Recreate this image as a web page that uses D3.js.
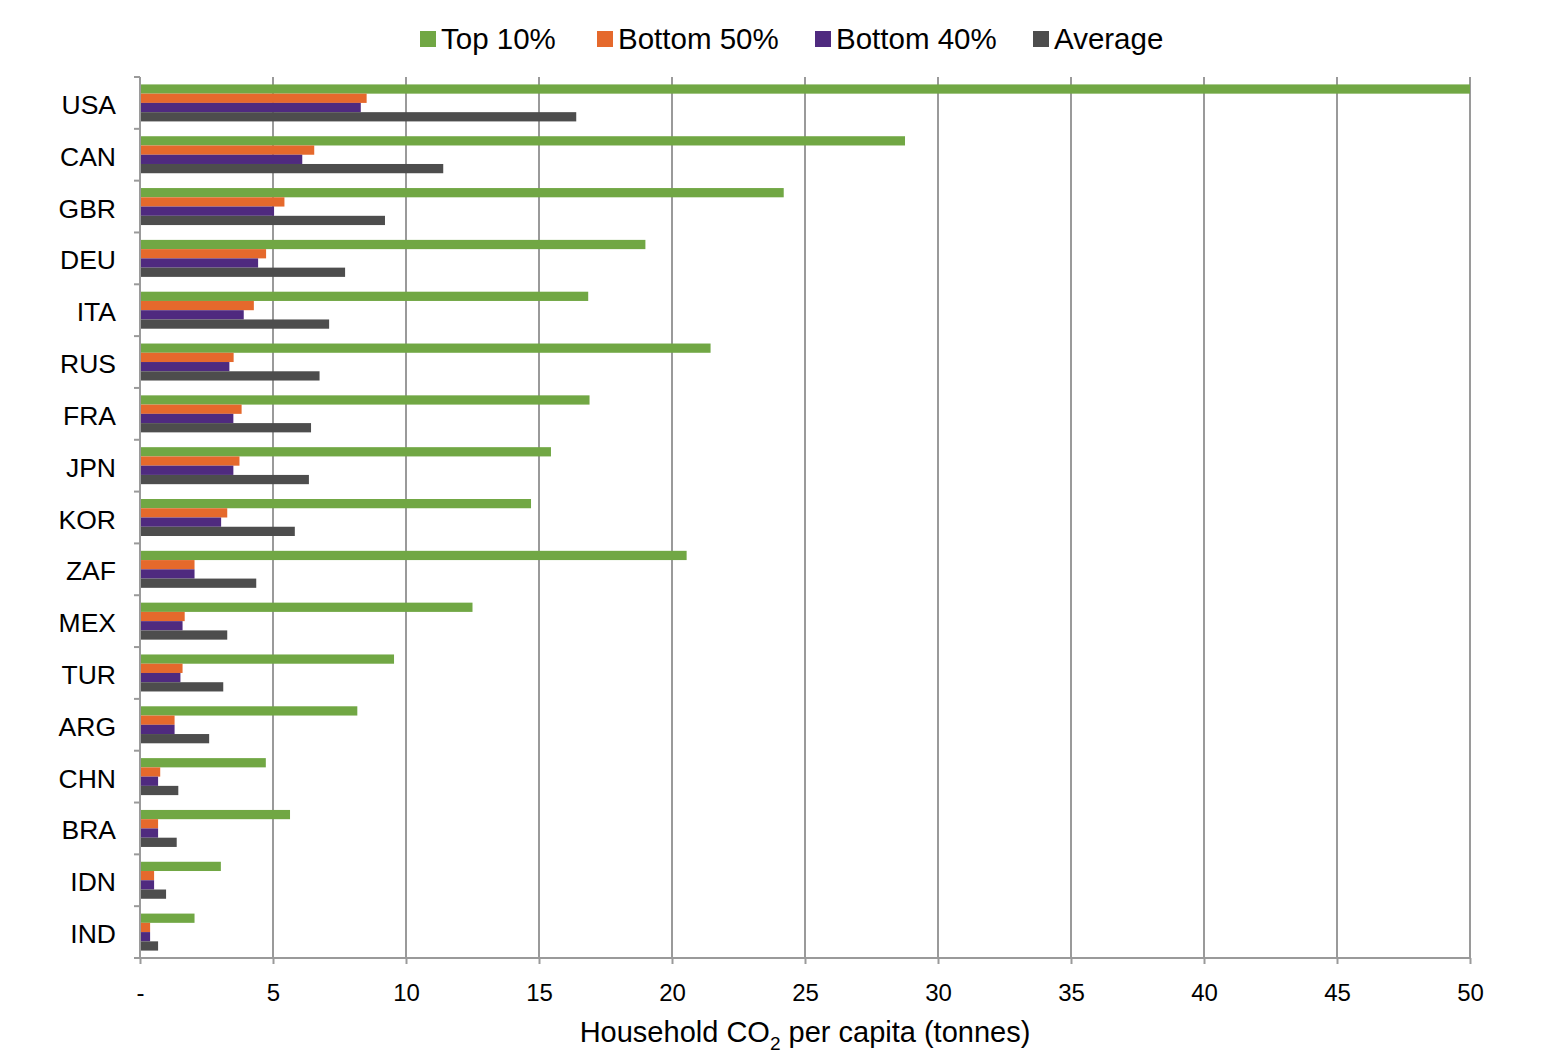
<!DOCTYPE html>
<html>
<head>
<meta charset="utf-8">
<script src="https://cdn.jsdelivr.net/npm/d3@7"></script>
<style>
  html, body { margin: 0; padding: 0; background: #fff; }
  svg { display: block; }
  text { font-family: "Liberation Sans", Arial, Helvetica, sans-serif; fill: #000; }
</style>
</head>
<body>
<svg id="chart" width="1546" height="1064"></svg>
<script>
const countries = ["USA","CAN","GBR","DEU","ITA","RUS","FRA","JPN","KOR","ZAF","MEX","TUR","ARG","CHN","BRA","IDN","IND"];
const seriesNames = ["Top 10%","Bottom 50%","Bottom 40%","Average"];
const top10    = [50, 28.76, 24.2, 19.0, 16.85, 21.45, 16.9, 15.45, 14.7, 20.55, 12.5, 9.55, 8.17, 4.73, 5.64, 3.04, 2.05];
const bottom50 = [8.52, 6.55, 5.43, 4.74, 4.28, 3.52, 3.82, 3.74, 3.28, 2.05, 1.68, 1.6, 1.3, 0.76, 0.68, 0.53, 0.38];
const bottom40 = [8.3, 6.1, 5.04, 4.44, 3.9, 3.36, 3.51, 3.51, 3.05, 2.05, 1.6, 1.52, 1.3, 0.68, 0.68, 0.53, 0.38];
const average  = [16.4, 11.4, 9.21, 7.71, 7.11, 6.75, 6.43, 6.35, 5.82, 4.37, 3.28, 3.13, 2.6, 1.44, 1.38, 0.98, 0.68];
const xTicks = [0,5,10,15,20,25,30,35,40,45,50];
const colors = ["#71a744","#e5692c","#4f2a7f","#4d4d4d"];

(function () {
const seriesValues = [top10, bottom50, bottom40, average];
const rows = countries.map((c, i) => ({country: c, values: seriesValues.map((s, k) => ({key: seriesNames[k], value: s[i], k}))}));

const svg = d3.select("#chart");
const mLeft = 140, mRight = 1470, mTop = 77, mBottom = 958;

const x = d3.scaleLinear().domain([0, 50]).range([mLeft, mRight]);
const y = d3.scaleBand().domain(countries).range([mTop, mBottom]).paddingInner(0.286).paddingOuter(0.143);
const ySub = d3.scaleBand().domain(seriesNames).range([0, y.bandwidth()]).padding(0);

const gridColor = "#9a9a9a";

// gridlines
svg.append("g").selectAll("line").data(xTicks.filter(t => t > 0)).join("line")
  .attr("x1", d => x(d)).attr("x2", d => x(d))
  .attr("y1", mTop).attr("y2", mBottom)
  .attr("stroke", gridColor).attr("stroke-width", 2);

// bars
const groups = svg.append("g").selectAll("g").data(rows).join("g")
  .attr("transform", d => `translate(0,${y(d.country)})`);
groups.selectAll("rect").data(d => d.values).join("rect")
  .attr("x", x(0))
  .attr("y", d => ySub(d.key))
  .attr("width", d => x(Math.min(d.value, 50)) - x(0))
  .attr("height", ySub.bandwidth())
  .attr("fill", d => colors[d.k]);

// y axis line and ticks at category boundaries
const step = y.step();
const boundaries = d3.range(countries.length + 1).map(i => mTop + i * step);
svg.append("line").attr("x1", mLeft).attr("x2", mLeft).attr("y1", mTop).attr("y2", mBottom)
  .attr("stroke", gridColor).attr("stroke-width", 2);
svg.append("g").selectAll("line").data(boundaries).join("line")
  .attr("x1", mLeft - 6).attr("x2", mLeft).attr("y1", d => d).attr("y2", d => d)
  .attr("stroke", gridColor).attr("stroke-width", 2);

// x axis
const xAxis = d3.axisBottom(x).tickValues(xTicks).tickSize(6).tickPadding(20)
  .tickFormat(d => d === 0 ? "-" : d);
const gx = svg.append("g").attr("transform", `translate(0,${mBottom})`).call(xAxis);
gx.select(".domain").attr("stroke", gridColor).attr("stroke-width", 2).attr("d", `M${mLeft - 6},0H${mRight}`);
gx.selectAll(".tick line").attr("stroke", gridColor).attr("stroke-width", 2);
gx.selectAll(".tick text").attr("font-size", 24).attr("fill", "#000")
  .style("font-family", '"Liberation Sans", Arial, sans-serif');

// y labels
svg.append("g").selectAll("text").data(countries).join("text")
  .attr("x", 116).attr("y", d => y(d) + y.bandwidth() / 2 + 11)
  .attr("text-anchor", "end").attr("font-size", 26.5).text(d => d);

// axis title
const title = svg.append("text").attr("x", 805).attr("y", 1042).attr("text-anchor", "middle").attr("font-size", 29);
title.append("tspan").text("Household CO");
title.append("tspan").attr("font-size", 19).attr("dy", 8).text("2");
title.append("tspan").attr("dy", -8).text(" per capita (tonnes)");

// legend
const legendX = [420, 597, 815, 1033];
const lg = svg.append("g").selectAll("g").data(seriesNames).join("g")
  .attr("transform", (d, i) => `translate(${legendX[i]},31)`);
lg.append("rect").attr("width", 16).attr("height", 16).attr("fill", (d, i) => colors[i]);
lg.append("text").attr("x", 21).attr("y", 18).attr("font-size", 29.5).text(d => d);
})();
</script>
</body>
</html>
